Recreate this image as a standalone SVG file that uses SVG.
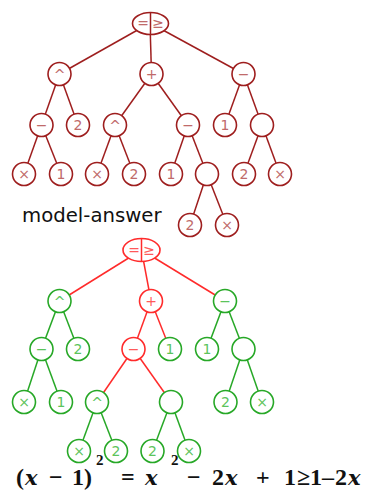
<svg xmlns="http://www.w3.org/2000/svg" width="368" height="495" viewBox="0 0 368 495">
  <style>
    .bg { fill: #ffffff; }
    .e { stroke-width: 1.5; fill: none; }
    .dr { stroke: #9e1e1e; }
    .rd { stroke: #ff2b2b; }
    .gr { stroke: #27a827; }
    .n { fill: #ffffff; stroke-width: 1.6; }
    .n.dr { stroke: #9e1e1e; }
    .n.rd { stroke: #ff2b2b; }
    .n.gr { stroke: #27a827; }
    .t { font-family: "DejaVu Sans", sans-serif; font-size: 14px; text-anchor: middle; dominant-baseline: central; }
    .t.dr { fill: #c06a6a; stroke: none; }
    .t.rd { fill: #ff5a5a; stroke: none; }
    .t.gr { fill: #5cc45c; stroke: none; }
    .lbl { font-family: "DejaVu Sans", sans-serif; font-size: 19.7px; fill: #111111; }
    .f { font-family: "Liberation Serif", serif; font-size: 24px; font-weight: bold; fill: #111111; }
    .fi { font-family: "DejaVu Serif", serif; font-size: 21px; font-style: italic; }
    .fs { font-size: 15px; }
  </style>
  <rect class="bg" x="0" y="0" width="368" height="495"/>

  <!-- upper tree: connectors -->
  <g id="edges-top" class="e dr">
    <line x1="150" y1="23" x2="59.5" y2="74"/>
    <line x1="150" y1="23" x2="151.5" y2="74"/>
    <line x1="150" y1="23" x2="243.5" y2="74"/>
    <line x1="59.5" y1="74" x2="41.5" y2="125"/>
    <line x1="59.5" y1="74" x2="78" y2="125"/>
    <line x1="41.5" y1="125" x2="24" y2="174"/>
    <line x1="41.5" y1="125" x2="61" y2="174"/>
    <line x1="151.5" y1="74" x2="115" y2="125"/>
    <line x1="151.5" y1="74" x2="188" y2="125"/>
    <line x1="115" y1="125" x2="97" y2="174"/>
    <line x1="115" y1="125" x2="134" y2="174"/>
    <line x1="188" y1="125" x2="171" y2="174"/>
    <line x1="188" y1="125" x2="207" y2="174"/>
    <line x1="207" y1="174" x2="190" y2="225"/>
    <line x1="207" y1="174" x2="227" y2="225"/>
    <line x1="243.5" y1="74" x2="225" y2="125"/>
    <line x1="243.5" y1="74" x2="262" y2="125"/>
    <line x1="262" y1="125" x2="244" y2="174"/>
    <line x1="262" y1="125" x2="280" y2="174"/>
  </g>

  <!-- upper tree: nodes -->
  <g id="t-root">
    <ellipse class="n dr" cx="150.5" cy="23.5" rx="18" ry="11"/>
    <line class="e dr" x1="150.5" y1="12.5" x2="150.5" y2="34.5"/>
    <text class="t dr" x="143" y="23">=</text>
    <text class="t dr" x="158" y="23">≥</text>
  </g>
  <g id="t-pow"><circle class="n dr" cx="59.5" cy="74" r="11.5"/><text class="t dr" x="59.5" y="75">^</text></g>
  <g id="t-plus"><circle class="n dr" cx="151.5" cy="74" r="11.5"/><text class="t dr" x="151.5" y="74">+</text></g>
  <g id="t-minus"><circle class="n dr" cx="243.5" cy="74" r="11.5"/><text class="t dr" x="243.5" y="74">−</text></g>
  <g id="t-minus2"><circle class="n dr" cx="41.5" cy="125" r="11.5"/><text class="t dr" x="41.5" y="125">−</text></g>
  <g id="t-two1"><circle class="n dr" cx="78" cy="125" r="11.5"/><text class="t dr" x="78" y="125">2</text></g>
  <g id="t-pow2"><circle class="n dr" cx="115" cy="125" r="11.5"/><text class="t dr" x="115" y="126">^</text></g>
  <g id="t-minus3"><circle class="n dr" cx="188" cy="125" r="11.5"/><text class="t dr" x="188" y="125">−</text></g>
  <g id="t-one1"><circle class="n dr" cx="225" cy="125" r="11.5"/><text class="t dr" x="225" y="125">1</text></g>
  <g id="t-blank1"><circle class="n dr" cx="262" cy="125" r="11.5"/></g>
  <g id="t-x1"><circle class="n dr" cx="24" cy="174" r="11.5"/><text class="t dr" x="24" y="174">×</text></g>
  <g id="t-one2"><circle class="n dr" cx="61" cy="174" r="11.5"/><text class="t dr" x="61" y="174">1</text></g>
  <g id="t-x2"><circle class="n dr" cx="97" cy="174" r="11.5"/><text class="t dr" x="97" y="174">×</text></g>
  <g id="t-two2"><circle class="n dr" cx="134" cy="174" r="11.5"/><text class="t dr" x="134" y="174">2</text></g>
  <g id="t-one3"><circle class="n dr" cx="171" cy="174" r="11.5"/><text class="t dr" x="171" y="174">1</text></g>
  <g id="t-blank2"><circle class="n dr" cx="207" cy="174" r="11.5"/></g>
  <g id="t-two3"><circle class="n dr" cx="244" cy="174" r="11.5"/><text class="t dr" x="244" y="174">2</text></g>
  <g id="t-x3"><circle class="n dr" cx="280" cy="174" r="11.5"/><text class="t dr" x="280" y="174">×</text></g>
  <g id="t-two4"><circle class="n dr" cx="190" cy="225" r="11.5"/><text class="t dr" x="190" y="225">2</text></g>
  <g id="t-x4"><circle class="n dr" cx="227" cy="225" r="11.5"/><text class="t dr" x="227" y="225">×</text></g>

  <text id="caption" class="lbl" x="22" y="222">model-answer</text>

  <!-- lower tree: connectors -->
  <g id="edges-bottom" class="e">
    <line class="rd" x1="141.5" y1="250" x2="59.5" y2="301"/>
    <line class="rd" x1="141.5" y1="250" x2="151" y2="301"/>
    <line class="rd" x1="141.5" y1="250" x2="225" y2="301"/>
    <line class="gr" x1="59.5" y1="301" x2="41.5" y2="349"/>
    <line class="gr" x1="59.5" y1="301" x2="78" y2="349"/>
    <line class="gr" x1="41.5" y1="349" x2="24" y2="402"/>
    <line class="gr" x1="41.5" y1="349" x2="61" y2="402"/>
    <line class="rd" x1="151" y1="301" x2="133.5" y2="349"/>
    <line class="rd" x1="151" y1="301" x2="170" y2="349"/>
    <line class="rd" x1="133.5" y1="349" x2="97" y2="402"/>
    <line class="rd" x1="133.5" y1="349" x2="171" y2="402"/>
    <line class="gr" x1="97" y1="402" x2="79" y2="451"/>
    <line class="gr" x1="97" y1="402" x2="116" y2="451"/>
    <line class="gr" x1="171" y1="402" x2="152.5" y2="451"/>
    <line class="gr" x1="171" y1="402" x2="189" y2="451"/>
    <line class="gr" x1="225" y1="301" x2="207" y2="349"/>
    <line class="gr" x1="225" y1="301" x2="243.5" y2="349"/>
    <line class="gr" x1="243.5" y1="349" x2="225.5" y2="402"/>
    <line class="gr" x1="243.5" y1="349" x2="262" y2="402"/>
  </g>

  <!-- lower tree: nodes -->
  <g id="b-root">
    <ellipse class="n rd" cx="141.5" cy="250" rx="18.5" ry="11.5"/>
    <line class="e rd" x1="141.5" y1="238.5" x2="141.5" y2="261.5"/>
    <text class="t rd" x="134" y="250">=</text>
    <text class="t rd" x="149" y="250">≥</text>
  </g>
  <g id="b-pow"><circle class="n gr" cx="59.5" cy="301" r="11.5"/><text class="t gr" x="59.5" y="302">^</text></g>
  <g id="b-plus"><circle class="n rd" cx="151" cy="301" r="11.5"/><text class="t rd" x="151" y="301">+</text></g>
  <g id="b-minus"><circle class="n gr" cx="225" cy="301" r="11.5"/><text class="t gr" x="225" y="301">−</text></g>
  <g id="b-minus2"><circle class="n gr" cx="41.5" cy="349" r="11.5"/><text class="t gr" x="41.5" y="349">−</text></g>
  <g id="b-two1"><circle class="n gr" cx="78" cy="349" r="11.5"/><text class="t gr" x="78" y="349">2</text></g>
  <g id="b-minus3"><circle class="n rd" cx="133.5" cy="349" r="11.5"/><text class="t rd" x="133.5" y="349">−</text></g>
  <g id="b-one1"><circle class="n gr" cx="170" cy="349" r="11.5"/><text class="t gr" x="170" y="349">1</text></g>
  <g id="b-one2"><circle class="n gr" cx="207" cy="349" r="11.5"/><text class="t gr" x="207" y="349">1</text></g>
  <g id="b-blank1"><circle class="n gr" cx="243.5" cy="349" r="11.5"/></g>
  <g id="b-x1"><circle class="n gr" cx="24" cy="402" r="11.5"/><text class="t gr" x="24" y="402">×</text></g>
  <g id="b-one3"><circle class="n gr" cx="61" cy="402" r="11.5"/><text class="t gr" x="61" y="402">1</text></g>
  <g id="b-pow2"><circle class="n gr" cx="97" cy="402" r="11.5"/><text class="t gr" x="97" y="403">^</text></g>
  <g id="b-blank2"><circle class="n gr" cx="171" cy="402" r="11.5"/></g>
  <g id="b-two2"><circle class="n gr" cx="225.5" cy="402" r="11.5"/><text class="t gr" x="225.5" y="402">2</text></g>
  <g id="b-x2"><circle class="n gr" cx="262" cy="402" r="11.5"/><text class="t gr" x="262" y="402">×</text></g>
  <g id="b-x3"><circle class="n gr" cx="79" cy="451" r="11.5"/><text class="t gr" x="79" y="451">×</text></g>
  <g id="b-two3"><circle class="n gr" cx="116" cy="451" r="11.5"/><text class="t gr" x="116" y="451">2</text></g>
  <g id="b-two4"><circle class="n gr" cx="152.5" cy="451" r="11.5"/><text class="t gr" x="152.5" y="451">2</text></g>
  <g id="b-x4"><circle class="n gr" cx="189" cy="451" r="11.5"/><text class="t gr" x="189" y="451">×</text></g>

  <!-- formula -->
  <text id="formula" class="f" y="485"><tspan x="16">(</tspan><tspan class="fi" x="25">x</tspan><tspan x="49">−</tspan><tspan x="72">1</tspan><tspan x="84">)</tspan><tspan class="fs" x="96" y="465">2</tspan><tspan x="121" y="485">=</tspan><tspan class="fi" x="145">x</tspan><tspan class="fs" x="171" y="465">2</tspan><tspan x="187" y="485">−</tspan><tspan x="212">2</tspan><tspan class="fi" x="225">x</tspan><tspan x="256">+</tspan><tspan x="284">1</tspan><tspan x="297">≥</tspan><tspan x="310">1</tspan><tspan x="322">–</tspan><tspan x="335">2</tspan><tspan class="fi" x="348">x</tspan></text>
</svg>
